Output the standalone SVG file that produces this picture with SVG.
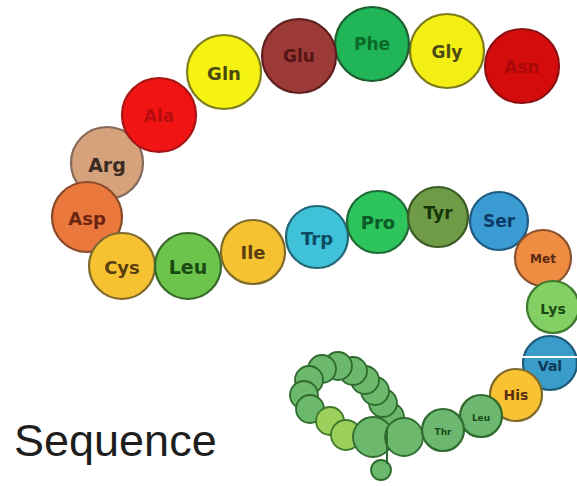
<svg xmlns="http://www.w3.org/2000/svg" width="577" height="486" viewBox="0 0 577 486">
  <style>
    .b { stroke-width: 2.2; }
    .lbl { font-family: "DejaVu Sans", "Liberation Sans", sans-serif; font-weight: bold; text-anchor: middle; dominant-baseline: central; }
    .coil { fill: #6cb86c; stroke: #2f6a2f; stroke-width: 1.8; }
    .coil-lt { fill: #9ccf5c; stroke: #3d7a2a; stroke-width: 1.8; }
    .title { font-family: "Liberation Sans", Arial, sans-serif; font-size: 45px; fill: #1e1e1e; }
  </style>
  <rect width="577" height="486" fill="#ffffff"/>

  <!-- folded tail of the chain -->
  <g id="coil">
    <circle class="coil" cx="390" cy="417" r="14"/>
    <circle class="coil" cx="383" cy="403" r="14"/>
    <circle class="coil" cx="375" cy="391" r="14"/>
    <circle class="coil" cx="365" cy="380" r="14"/>
    <circle class="coil" cx="353" cy="371" r="14"/>
    <circle class="coil" cx="338" cy="366" r="14"/>
    <circle class="coil" cx="322" cy="369" r="14"/>
    <circle class="coil" cx="309" cy="380" r="14"/>
    <circle class="coil" cx="304" cy="395" r="14"/>
    <circle class="coil" cx="310" cy="409" r="14"/>
    <circle class="coil-lt" cx="330" cy="421" r="14"/>
    <circle class="coil-lt" cx="346" cy="435" r="15"/>
    <circle class="coil" cx="381" cy="470" r="10"/>
    <circle class="coil" cx="373" cy="437" r="20"/>
    <circle class="coil" cx="404" cy="437" r="19"/>
    <line x1="387" y1="427" x2="387" y2="464" stroke="#2f6a2f" stroke-width="2"/>
  </g>

  <g id="asn"><circle class="b" cx="522" cy="66" r="37" fill="#d40c0c" stroke="#8e1010"/><text class="lbl" x="522" y="67" font-size="17" fill="#a80808">Asn</text></g>
  <g id="gly"><circle class="b" cx="447" cy="51" r="37" fill="#f3ef14" stroke="#7d7a1c"/><text class="lbl" x="447" y="52" font-size="17" fill="#4c4a12">Gly</text></g>
  <g id="phe"><circle class="b" cx="372" cy="44" r="37" fill="#20b556" stroke="#1c5e32"/><text class="lbl" x="372" y="44" font-size="17" fill="#0c6a2a">Phe</text></g>
  <g id="glu"><circle class="b" cx="299" cy="56" r="37" fill="#9c3a38" stroke="#5e1f1e"/><text class="lbl" x="299" y="56" font-size="17" fill="#561414">Glu</text></g>
  <g id="gln"><circle class="b" cx="224" cy="72" r="37" fill="#f6f214" stroke="#7f7e1c"/><text class="lbl" x="224" y="73" font-size="18" fill="#4a4a10">Gln</text></g>
  <g id="arg"><circle class="b" cx="107" cy="163" r="36" fill="#d6a27c" stroke="#85695a"/><text class="lbl" x="107" y="165" font-size="19" fill="#3a2c22">Arg</text></g>
  <g id="ala"><circle class="b" cx="159" cy="115" r="37" fill="#f01414" stroke="#a81414"/><text class="lbl" x="159" y="116" font-size="17" fill="#b80c0c">Ala</text></g>
  <g id="asp"><circle class="b" cx="87" cy="217" r="35" fill="#ea773c" stroke="#8a4a2a"/><text class="lbl" x="87" y="218" font-size="18" fill="#6a2410">Asp</text></g>
  <g id="cys"><circle class="b" cx="122" cy="266" r="33" fill="#f6c232" stroke="#7e6a2a"/><text class="lbl" x="122" y="267" font-size="18" fill="#5a3e10">Cys</text></g>
  <g id="leu"><circle class="b" cx="188" cy="266" r="33" fill="#6cc44c" stroke="#356a2a"/><text class="lbl" x="188" y="267" font-size="19" fill="#1a4a12">Leu</text></g>
  <g id="ile"><circle class="b" cx="253" cy="252" r="32" fill="#f6c232" stroke="#7e6a2a"/><text class="lbl" x="253" y="252" font-size="18" fill="#5a3e10">Ile</text></g>
  <g id="trp"><circle class="b" cx="317" cy="237" r="31" fill="#3fc2d8" stroke="#246878"/><text class="lbl" x="317" y="238" font-size="18" fill="#0c4a66">Trp</text></g>
  <g id="pro"><circle class="b" cx="378" cy="222" r="31" fill="#2ec45c" stroke="#1e6a36"/><text class="lbl" x="378" y="222" font-size="18" fill="#0a5a26">Pro</text></g>
  <g id="tyr"><circle class="b" cx="438" cy="217" r="30" fill="#6f9a46" stroke="#3a5a26"/><text class="lbl" x="438" y="213" font-size="17" fill="#16340a">Tyr</text></g>
  <g id="ser"><circle class="b" cx="499" cy="221" r="29" fill="#3a9cd2" stroke="#1e5a80"/><text class="lbl" x="499" y="221" font-size="17" fill="#0c3a66">Ser</text></g>
  <g id="met"><circle class="b" cx="543" cy="258" r="28" fill="#f08c42" stroke="#8a5230"/><text class="lbl" x="543" y="259" font-size="12" fill="#5a2a10">Met</text></g>
  <g id="lys"><circle class="b" cx="553" cy="307" r="26" fill="#84d064" stroke="#3e7a2e"/><text class="lbl" x="553" y="309" font-size="14" fill="#1a4a12">Lys</text></g>
  <g id="val"><circle class="b" cx="550" cy="363" r="27" fill="#3a9cc8" stroke="#1e5a7a"/><text class="lbl" x="550" y="366" font-size="14" fill="#0c3a5a">Val</text>
    <line x1="522" y1="357" x2="577" y2="357" stroke="#ffffff" stroke-width="2"/></g>
  <g id="his"><circle class="b" cx="516" cy="395" r="26" fill="#f8c232" stroke="#7e6a2a"/><text class="lbl" x="516" y="395" font-size="14" fill="#5a3010">His</text></g>
  <g id="leu2"><circle class="b" cx="481" cy="416" r="21" fill="#6cb870" stroke="#2f6a2f"/><text class="lbl" x="481" y="418" font-size="9" fill="#1a4a1a">Leu</text></g>
  <g id="thr"><circle class="b" cx="443" cy="430" r="21" fill="#6cb870" stroke="#2f6a2f"/><text class="lbl" x="443" y="432" font-size="9" fill="#1a4a1a">Thr</text></g>

  <text class="title" x="14" y="456">Sequence</text>
</svg>
